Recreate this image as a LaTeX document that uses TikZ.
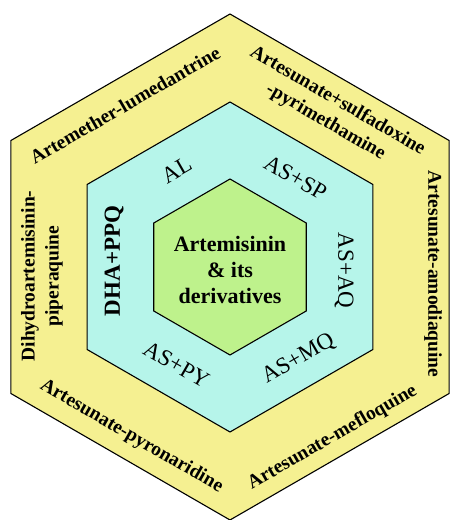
\documentclass[tikz,border=0pt]{standalone}
\usepackage{fontspec}
\setmainfont{Liberation Serif}
\usetikzlibrary{calc}
\begin{document}
\begin{tikzpicture}[x=1pt,y=1pt,
  hexline/.style={draw=black,line width=1.1pt,line join=miter},
  outerlab/.style={font=\fontsize{19.5}{24}\selectfont\bfseries,align=center,inner sep=0pt},
  midlab/.style={font=\fontsize{23}{26}\selectfont,inner sep=0pt},
  midlabb/.style={font=\fontsize{23}{26}\selectfont\bfseries,inner sep=0pt},
  centerlab/.style={font=\fontsize{22}{26}\selectfont\bfseries,align=center,inner sep=0pt}]
\definecolor{hexyellow}{RGB}{245,240,145}
\definecolor{hexcyan}{RGB}{182,245,234}
\definecolor{hexgreen}{RGB}{190,242,140}
\useasboundingbox (0,0) rectangle (452,520);
\coordinate (C) at (230,253);
\fill[hexyellow] ($(C)+(30:253)$) \foreach \a in {90,150,210,270,330}{ -- ($(C)+(\a:253)$)} -- cycle;
\draw[hexline] ($(C)+(30:253)$) \foreach \a in {90,150,210,270,330}{ -- ($(C)+(\a:253)$)} -- cycle;
\fill[hexcyan] ($(C)+(30:165)$) \foreach \a in {90,150,210,270,330}{ -- ($(C)+(\a:165)$)} -- cycle;
\draw[hexline] ($(C)+(30:165)$) \foreach \a in {90,150,210,270,330}{ -- ($(C)+(\a:165)$)} -- cycle;
\fill[hexgreen] ($(C)+(30:88)$) \foreach \a in {90,150,210,270,330}{ -- ($(C)+(\a:88)$)} -- cycle;
\draw[hexline] ($(C)+(30:88)$) \foreach \a in {90,150,210,270,330}{ -- ($(C)+(\a:88)$)} -- cycle;
% centre
\node[centerlab] (core) at (230,250) {Artemisinin\\\& its\\derivatives};
% middle ring
\node[midlab,rotate=30] (al) at (176.5,350) {AL};
\node[midlab,rotate=-30] (assp) at (295.5,342.5) {AS+SP};
\node[midlab,rotate=-90] (asaq) at (344,249.5) {AS+AQ};
\node[midlab,rotate=30] (asmq) at (298.5,161) {AS+MQ};
\node[midlab,rotate=-30] (aspy) at (176.5,155.5) {AS+PY};
\node[midlabb,rotate=90] (dha) at (114,259) {DHA+PPQ};
% outer ring
\node[outerlab,rotate=30] (artl) at (125,415) {Artemether-lumedantrine};
\node[outerlab,rotate=-30] (arts) at (331.5,408.5) {Artesunate+sulfadoxine\\-pyrimethamine};
\node[outerlab,rotate=-90] (arta) at (433,246) {Artesunate-amodiaquine};
\node[outerlab,rotate=30] (artm) at (332.5,82.5) {Artesunate-mefloquine};
\node[outerlab,rotate=-30] (artp) at (131.5,83.5) {Artesunate-pyronaridine};
\node[outerlab,rotate=90] (dhp) at (42,244) {Dihydroartemisinin-\\piperaquine};
\end{tikzpicture}
\end{document}
